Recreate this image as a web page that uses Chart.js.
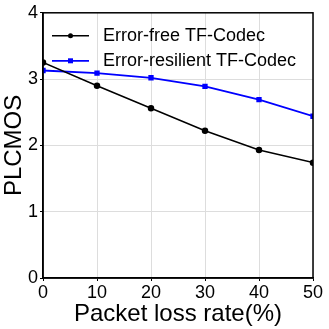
<!DOCTYPE html>
<html>
<head>
<meta charset="utf-8">
<script src="https://cdn.jsdelivr.net/npm/chart.js@4/dist/chart.umd.min.js"></script>
<style>
  html, body { margin: 0; padding: 0; background: #fff; }
  #wrap { width: 329px; height: 329px; }
</style>
</head>
<body>
<div id="wrap"><canvas id="c" width="329" height="329"></canvas></div>
<script>
const lossRates = [0, 10, 20, 30, 40, 50];
const errorFree = [3.25, 2.90, 2.56, 2.22, 1.93, 1.74];
const errorResilient = [3.13, 3.09, 3.02, 2.89, 2.69, 2.44];
const seriesNames = ["Error-free TF-Codec", "Error-resilient TF-Codec"];

const font = "'Liberation Sans', Arial, sans-serif";

// frame around the plot + legend inside the top-left corner
const framePlugin = {
  id: "frame",
  afterDraw(chart) {
    const { ctx, chartArea: a } = chart;
    ctx.save();
    ctx.strokeStyle = "#000";
    ctx.lineWidth = 1.5;
    ctx.strokeRect(a.left, a.top, a.right - a.left, a.bottom - a.top);

    chart.data.datasets.forEach((ds, i) => {
      const y = a.top + 23 + i * 25;
      const x0 = a.left + 9, x1 = a.left + 46;
      ctx.strokeStyle = ds.borderColor;
      ctx.lineWidth = ds.borderWidth;
      ctx.beginPath();
      ctx.moveTo(x0, y);
      ctx.lineTo(x1, y);
      ctx.stroke();
      ctx.fillStyle = ds.borderColor;
      const xm = (x0 + x1) / 2;
      if (ds.pointStyle === "rect") ctx.fillRect(xm - 2.5, y - 2.5, 5, 5);
      else { ctx.beginPath(); ctx.arc(xm, y, 2.5, 0, Math.PI * 2); ctx.fill(); }
      ctx.fillStyle = "#000";
      ctx.font = "18px " + font;
      ctx.textBaseline = "middle";
      ctx.fillText(ds.label, a.left + 60, y);
    });
    ctx.restore();
  }
};

new Chart(document.getElementById("c"), {
  type: "line",
  data: {
    datasets: [
      {
        label: seriesNames[0],
        data: lossRates.map((x, i) => ({ x, y: errorFree[i] })),
        borderColor: "#000",
        backgroundColor: "#000",
        borderWidth: 1.5,
        pointStyle: "circle",
        pointRadius: 2.5,
        pointHoverRadius: 2.5,
      },
      {
        label: seriesNames[1],
        data: lossRates.map((x, i) => ({ x, y: errorResilient[i] })),
        borderColor: "#0000ff",
        backgroundColor: "#0000ff",
        borderWidth: 1.8,
        pointStyle: "rect",
        pointRadius: 2.5,
        pointHoverRadius: 2.5,
      },
    ],
  },
  options: {
    responsive: false,
    animation: false,
    events: [],
    layout: { padding: { top: 11, right: 16, left: 0, bottom: 0 } },
    plugins: { legend: { display: false }, tooltip: { enabled: false } },
    scales: {
      x: {
        type: "linear",
        min: 0,
        max: 50,
        ticks: { stepSize: 10, color: "#000", font: { family: font, size: 18 }, padding: 1, maxRotation: 0 },
        grid: { color: "#dddddd", tickLength: 3, tickColor: "#000" },
        border: { color: "#000", width: 1.5 },
        title: { display: true, text: "Packet loss rate(%)", color: "#000", font: { family: font, size: 24 }, padding: { top: -3, bottom: 0 } },
        afterFit(s) { s.height = 51; },
      },
      y: {
        min: 0,
        max: 4,
        ticks: { stepSize: 1, color: "#000", font: { family: font, size: 18 }, padding: 2 },
        grid: { color: "#dddddd", tickLength: 3, tickColor: "#000" },
        border: { color: "#000", width: 1.5 },
        title: { display: true, text: "PLCMOS", color: "#000", font: { family: font, size: 24 }, padding: { top: 0, bottom: 0 } },
        afterFit(s) { s.width = 43; },
      },
    },
  },
  plugins: [framePlugin],
});
</script>
</body>
</html>
